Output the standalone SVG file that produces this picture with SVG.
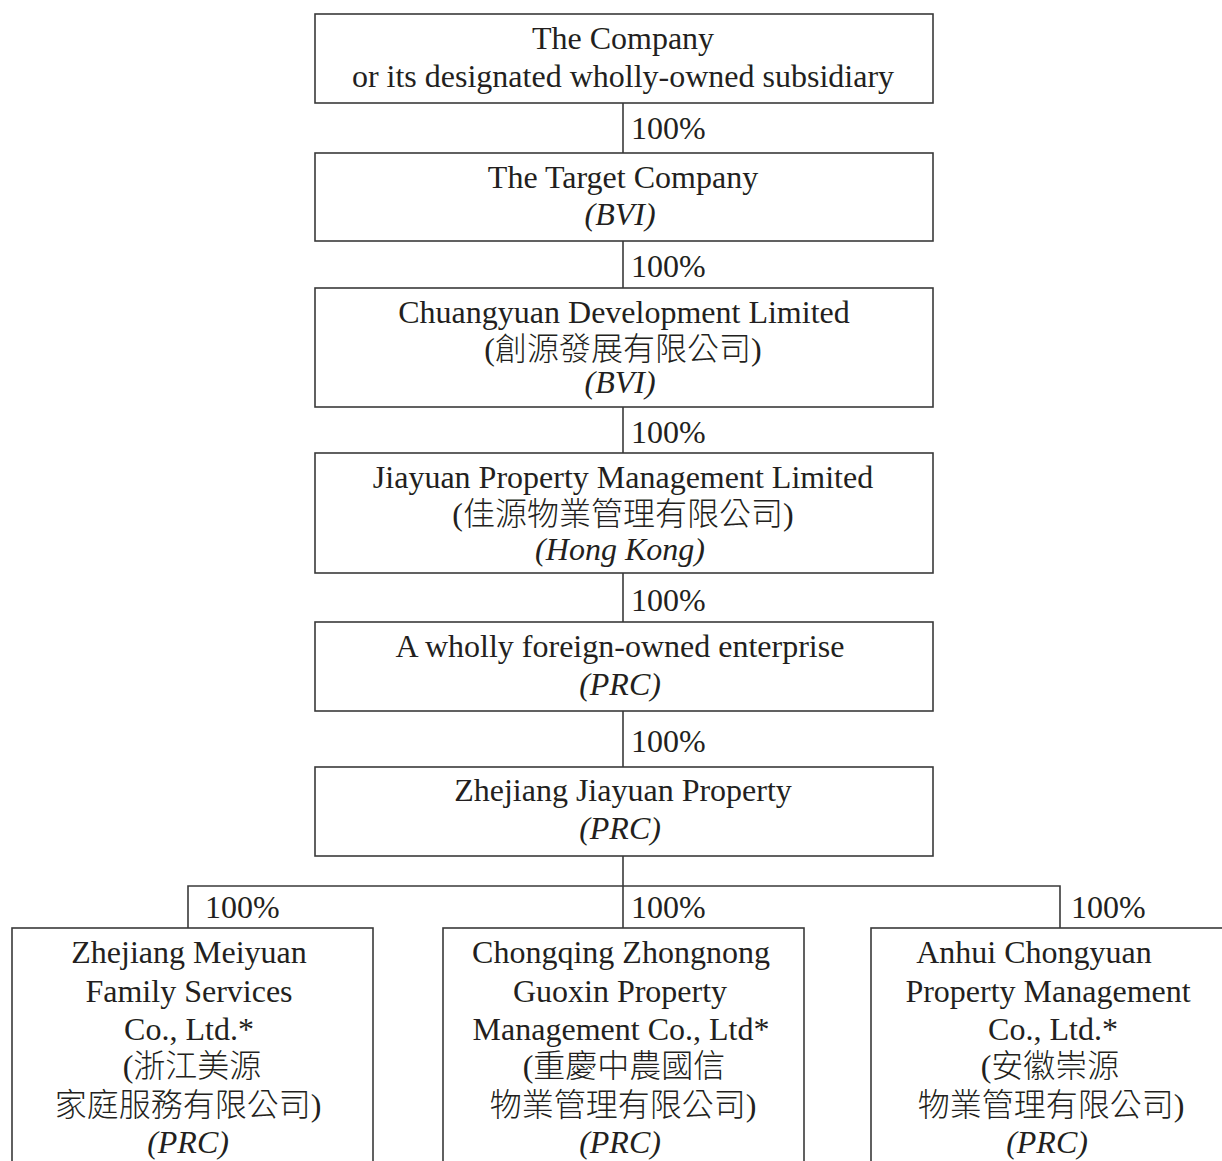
<svg xmlns="http://www.w3.org/2000/svg" width="1222" height="1161" viewBox="0 0 1222 1161">
<style>
.box{fill:#fff;stroke:#3a3a3a;stroke-width:1.6}
.ln{fill:none;stroke:#3a3a3a;stroke-width:1.6}
text{font-family:"Liberation Serif","Noto Sans CJK TC",serif;font-size:32px;fill:#231f20}
.c{text-anchor:middle}
.i{font-style:italic}
.cjk{font-family:"Noto Sans CJK TC",sans-serif;font-size:32px;font-weight:300}
</style>
<rect width="1222" height="1161" fill="#fff"/>
<g id="connectors">
<line class="ln" x1="623" y1="103" x2="623" y2="153"/>
<line class="ln" x1="623" y1="241" x2="623" y2="288"/>
<line class="ln" x1="623" y1="407" x2="623" y2="453"/>
<line class="ln" x1="623" y1="573" x2="623" y2="622"/>
<line class="ln" x1="623" y1="711" x2="623" y2="767"/>
<line class="ln" x1="623" y1="856" x2="623" y2="928"/>
<polyline class="ln" points="188,928 188,886 1060,886 1060,928"/>
<text x="631" y="139">100%</text>
<text x="631" y="277">100%</text>
<text x="631" y="443">100%</text>
<text x="631" y="611">100%</text>
<text x="631" y="752">100%</text>
<text x="205" y="918">100%</text>
<text x="631" y="918">100%</text>
<text x="1071" y="918">100%</text>
</g>
<g id="n1">
<rect class="box" x="315" y="14" width="618" height="89"/>
<text class="c" x="623" y="49">The Company</text>
<text class="c" x="623" y="87">or its designated wholly-owned subsidiary</text>
</g>
<g id="n2">
<rect class="box" x="315" y="153" width="618" height="88"/>
<text class="c" x="623" y="188">The Target Company</text>
<text class="c i" x="620" y="225">(BVI)</text>
</g>
<g id="n3">
<rect class="box" x="315" y="288" width="618" height="119"/>
<text class="c" x="624" y="323">Chuangyuan Development Limited</text>
<text class="c" x="623" y="360">(<tspan class="cjk">創源發展有限公司</tspan>)</text>
<text class="c i" x="620" y="393">(BVI)</text>
</g>
<g id="n4">
<rect class="box" x="315" y="453" width="618" height="120"/>
<text class="c" x="623" y="488">Jiayuan Property Management Limited</text>
<text class="c" x="623" y="525">(<tspan class="cjk">佳源物業管理有限公司</tspan>)</text>
<text class="c i" x="620" y="560">(Hong Kong)</text>
</g>
<g id="n5">
<rect class="box" x="315" y="622" width="618" height="89"/>
<text class="c" x="620" y="657">A wholly foreign-owned enterprise</text>
<text class="c i" x="620" y="695">(PRC)</text>
</g>
<g id="n6">
<rect class="box" x="315" y="767" width="618" height="89"/>
<text class="c" x="623" y="801">Zhejiang Jiayuan Property</text>
<text class="c i" x="620" y="839">(PRC)</text>
</g>
<g id="n7">
<rect class="box" x="12" y="928" width="361" height="260"/>
<text class="c" x="189" y="963">Zhejiang Meiyuan</text>
<text class="c" x="189" y="1002">Family Services</text>
<text class="c" x="189" y="1040">Co., Ltd.*</text>
<text class="c" x="192" y="1077">(<tspan class="cjk">浙江美源</tspan></text>
<text class="c" x="188" y="1116"><tspan class="cjk">家庭服務有限公司</tspan>)</text>
<text class="c i" x="188" y="1153">(PRC)</text>
</g>
<g id="n8">
<rect class="box" x="443" y="928" width="361" height="260"/>
<text class="c" x="621" y="963">Chongqing Zhongnong</text>
<text class="c" x="620" y="1002">Guoxin Property</text>
<text class="c" x="621" y="1040">Management Co., Ltd*</text>
<text class="c" x="624" y="1077">(<tspan class="cjk">重慶中農國信</tspan></text>
<text class="c" x="623" y="1116"><tspan class="cjk">物業管理有限公司</tspan>)</text>
<text class="c i" x="620" y="1153">(PRC)</text>
</g>
<g id="n9">
<rect class="box" x="871" y="928" width="360" height="260"/>
<text class="c" x="1034" y="963">Anhui Chongyuan</text>
<text class="c" x="1048" y="1002">Property Management</text>
<text class="c" x="1053" y="1040">Co., Ltd.*</text>
<text class="c" x="1050" y="1077">(<tspan class="cjk">安徽崇源</tspan></text>
<text class="c" x="1051" y="1116"><tspan class="cjk">物業管理有限公司</tspan>)</text>
<text class="c i" x="1047" y="1153">(PRC)</text>
</g>
</svg>
